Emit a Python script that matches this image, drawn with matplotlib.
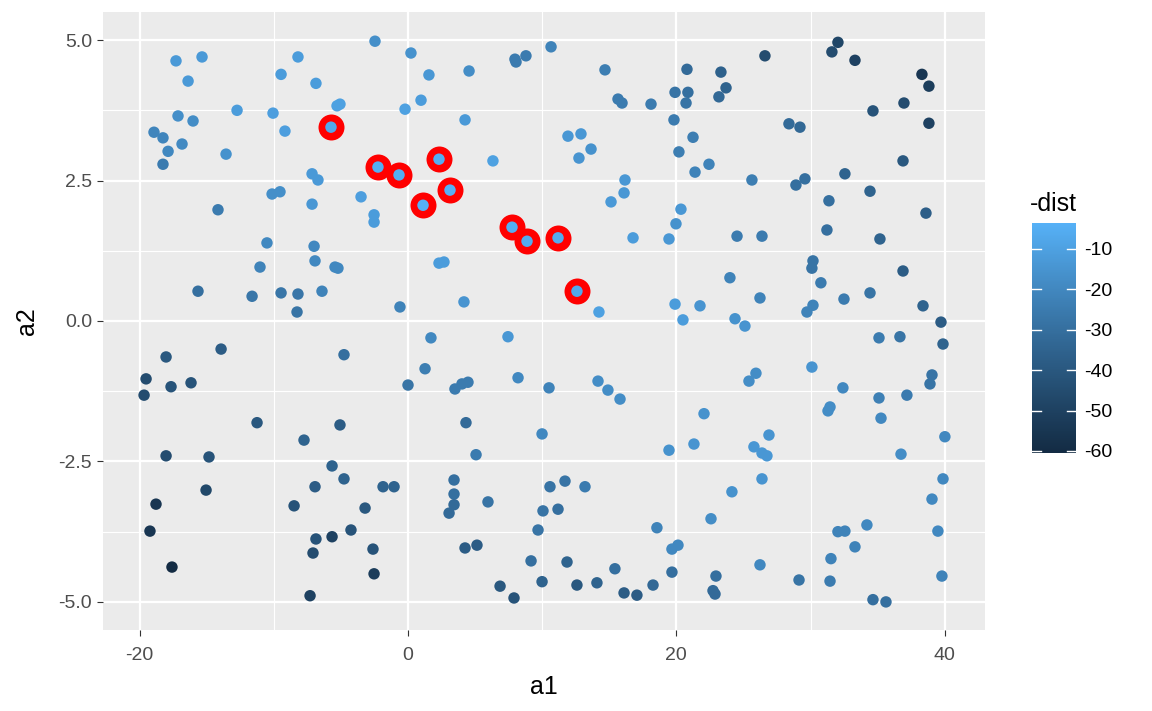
import numpy as np
import matplotlib
matplotlib.use("Agg")
import matplotlib.pyplot as plt
from matplotlib.colors import ListedColormap, Normalize

# all points (a1, a2) and colour value -dist
a1 = [-17.29, -15.35, -16.39, -8.20, -9.46, -6.86, -17.14, -16.02, -12.74, -10.06,
      -9.17, -18.93, -18.26, -16.84, -17.88, -18.26, -13.56, -7.15, -6.71, -10.13,
      -9.54, -7.15, -14.16, -2.46, 0.22, 1.56, 4.55, 7.97, 8.05, 8.79,
      10.66, -5.07, -5.29, 0.97, -0.22, 4.25, 6.33, -3.50, -2.53, -2.53,
      14.68, 20.79, 23.32, 26.60, 15.65, 15.95, 18.11, 19.90, 20.86, 20.72,
      23.70, 23.17, 19.82, 21.24, 11.92, 12.89, 13.64, 12.74, 20.19, 22.43,
      21.39, 25.63, 16.17, 16.10, 15.13, 20.34, 19.97, 32.04, 31.59, 33.31,
      38.30, 38.82, 36.96, 34.65, 38.82, 28.39, 29.21, 36.89, 32.56, 29.58,
      28.91, 34.43, 31.37, 38.60, -10.51, -7.00, -6.93, -11.03, -15.65, -11.62,
      -9.46, -8.20, -6.41, -8.27, -13.93, -18.03, -19.52, -17.66, -16.17, -19.67,
      -11.25, -5.44, -5.22, 2.31, 2.68, -0.60, 4.17, 1.71, 7.45, -4.77,
      1.27, 0.00, 3.50, 4.02, 4.47, 8.20, 10.51, -5.07, 4.32, 9.99,
      16.77, 19.45, 24.52, 26.38, 23.99, 26.23, 14.23, 19.90, 21.76, 20.49,
      24.37, 25.11, 14.16, 14.90, 15.80, 25.93, 25.41, 22.06, 26.90, 25.78,
      26.38, 26.75, 31.22, 35.17, 30.18, 30.10, 36.89, 30.77, 32.49, 34.43,
      30.18, 29.73, 38.38, 39.72, 35.10, 36.66, 39.87, 30.10, 32.41, 35.10,
      37.18, 39.05, 38.90, 31.45, 31.30, 35.25, -7.75, -18.03, -14.83, -15.05,
      -18.78, -19.23, -17.59, -6.93, -8.49, -6.86, -7.08, -7.30, 5.07, -5.66,
      -4.77, -1.86, -1.04, 3.43, 3.43, 3.43, 3.06, 5.96, 10.58, 10.06,
      9.69, -3.20, -5.66, -4.25, -2.61, -2.53, 4.25, 5.14, 9.17, 6.86,
      7.90, 9.99, 19.45, 21.31, 11.70, 13.19, 11.18, 18.55, 24.14, 22.58,
      26.38, 19.67, 20.12, 11.85, 15.42, 19.67, 12.59, 14.08, 16.10, 17.06,
      18.26, 22.95, 22.73, 22.88, 26.23, 40.01, 36.74, 39.87, 39.05, 39.49,
      32.04, 32.56, 34.20, 33.31, 31.52, 31.45, 29.14, 34.65, 35.62, 39.79]

a2 = [4.63, 4.70, 4.27, 4.70, 4.39, 4.23, 3.65, 3.56, 3.75, 3.70,
      3.38, 3.36, 3.26, 3.15, 3.02, 2.79, 2.97, 2.62, 2.51, 2.26,
      2.30, 2.08, 1.98, 4.98, 4.77, 4.38, 4.45, 4.66, 4.61, 4.72,
      4.88, 3.86, 3.83, 3.93, 3.77, 3.58, 2.85, 2.21, 1.89, 1.76,
      4.47, 4.48, 4.43, 4.72, 3.95, 3.88, 3.86, 4.07, 4.07, 3.88,
      4.15, 3.99, 3.58, 3.27, 3.29, 3.33, 3.06, 2.90, 3.01, 2.79,
      2.65, 2.51, 2.51, 2.28, 2.12, 1.99, 1.73, 4.96, 4.79, 4.64,
      4.39, 4.18, 3.88, 3.74, 3.52, 3.51, 3.45, 2.85, 2.62, 2.53,
      2.42, 2.31, 2.14, 1.92, 1.39, 1.33, 1.07, 0.96, 0.53, 0.44,
      0.50, 0.48, 0.53, 0.16, -0.50, -0.64, -1.03, -1.17, -1.10, -1.32,
      -1.81, 0.96, 0.94, 1.03, 1.05, 0.25, 0.34, -0.30, -0.28, -0.60,
      -0.85, -1.14, -1.21, -1.12, -1.09, -1.01, -1.19, -1.85, -1.81, -2.01,
      1.48, 1.46, 1.51, 1.51, 0.77, 0.41, 0.16, 0.30, 0.27, 0.02,
      0.04, -0.09, -1.07, -1.23, -1.39, -0.93, -1.07, -1.65, -2.03, -2.24,
      -2.35, -2.40, 1.62, 1.46, 1.07, 0.94, 0.89, 0.68, 0.39, 0.50,
      0.28, 0.16, 0.27, -0.02, -0.30, -0.28, -0.41, -0.82, -1.19, -1.37,
      -1.32, -0.96, -1.12, -1.53, -1.60, -1.73, -2.12, -2.40, -2.42, -3.01,
      -3.26, -3.74, -4.38, -2.95, -3.29, -3.88, -4.13, -4.89, -2.38, -2.58,
      -2.81, -2.95, -2.95, -2.83, -3.08, -3.27, -3.42, -3.22, -2.95, -3.38,
      -3.72, -3.33, -3.84, -3.72, -4.06, -4.50, -4.04, -3.99, -4.27, -4.72,
      -4.93, -4.64, -2.30, -2.19, -2.85, -2.95, -3.35, -3.68, -3.04, -3.52,
      -2.81, -4.06, -3.99, -4.29, -4.41, -4.47, -4.70, -4.66, -4.84, -4.88,
      -4.70, -4.54, -4.80, -4.86, -4.34, -2.06, -2.37, -2.81, -3.17, -3.74,
      -3.75, -3.74, -3.63, -4.02, -4.23, -4.63, -4.61, -4.96, -5.00, -4.54]

neg_dist = [-13, -13, -13, -12, -12, -12, -17, -18, -12, -11,
            -11, -21, -21, -19, -20, -25, -16, -13, -13, -17,
            -17, -14, -25, -17, -16, -14, -18, -25, -25, -25,
            -22, -10, -10, -12, -10, -13, -10, -11, -12, -12,
            -24, -32, -36, -45, -25, -25, -25, -28, -30, -28,
            -35, -33, -25, -24, -14, -14, -16, -15, -24, -22,
            -22, -24, -14, -14, -13, -14, -16, -48, -45, -50,
            -55, -52, -45, -42, -50, -32, -33, -40, -35, -30,
            -30, -35, -30, -37, -20, -20, -20, -22, -30, -27,
            -27, -27, -22, -28, -38, -40, -45, -42, -42, -45,
            -40, -20, -20, -12, -12, -22, -15, -20, -14, -30,
            -24, -28, -25, -25, -25, -20, -22, -38, -32, -20,
            -12, -14, -25, -25, -22, -22, -10, -12, -15, -12,
            -16, -15, -18, -18, -18, -18, -18, -16, -15, -14,
            -14, -14, -30, -35, -28, -28, -38, -25, -25, -28,
            -22, -22, -35, -38, -25, -28, -35, -15, -20, -23,
            -25, -28, -28, -18, -18, -20, -35, -45, -42, -47,
            -55, -55, -60.5, -38, -42, -42, -45, -50, -25, -35,
            -35, -35, -35, -30, -30, -32, -32, -28, -28, -28,
            -28, -40, -50, -42, -42, -52, -38, -38, -30, -40,
            -42, -35, -16, -15, -28, -25, -30, -22, -16, -18,
            -15, -20, -20, -35, -30, -30, -40, -35, -38, -38,
            -33, -30, -32, -32, -20, -20, -18, -20, -20, -20,
            -22, -22, -20, -22, -22, -25, -28, -30, -30, -22]

# nearest neighbours (red rings)
near_a1 = [-5.74, -2.24, -0.67, 2.31, 3.13, 1.12, 7.75, 8.87, 11.18, 12.59]
near_a2 = [3.45, 2.74, 2.60, 2.88, 2.33, 2.06, 1.67, 1.42, 1.48, 0.53]
near_neg_dist = [-7, -5, -5, -5, -4, -3.6, -5, -6, -6, -7]


# ggplot-like gradient (#132B43 -> #56B1F7) interpolated in Lab
def hex2rgb(h):
    return np.array([int(h[i:i + 2], 16) for i in (1, 3, 5)]) / 255.0

M = np.array([[0.4124, 0.3576, 0.1805], [0.2126, 0.7152, 0.0722], [0.0193, 0.1192, 0.9505]])
WP = np.array([0.95047, 1.0, 1.08883])

def rgb2lab(c):
    c = np.where(c > 0.04045, ((c + 0.055) / 1.055) ** 2.4, c / 12.92)
    xyz = M @ c / WP
    f = np.where(xyz > 0.008856, np.cbrt(xyz), 7.787 * xyz + 16 / 116)
    return np.array([116 * f[1] - 16, 500 * (f[0] - f[1]), 200 * (f[1] - f[2])])

def lab2rgb(lab):
    fy = (lab[0] + 16) / 116
    f = np.array([fy + lab[1] / 500, fy, fy - lab[2] / 200])
    xyz = np.where(f > 0.2069, f ** 3, (f - 16 / 116) / 7.787) * WP
    c = np.linalg.solve(M, xyz)
    c = np.where(c > 0.0031308, 1.055 * np.clip(c, 0, None) ** (1 / 2.4) - 0.055, 12.92 * c)
    return np.clip(c, 0, 1)

lo, hi = rgb2lab(hex2rgb("#132B43")), rgb2lab(hex2rgb("#56B1F7"))
cmap = ListedColormap([lab2rgb(lo + t * (hi - lo)) for t in np.linspace(0, 1, 256)])

all_vals = neg_dist + near_neg_dist
norm = Normalize(vmin=min(all_vals), vmax=max(all_vals))

plt.rcParams["font.family"] = ["Liberation Sans", "DejaVu Sans"]
plt.rcParams["axes.unicode_minus"] = False

fig = plt.figure(figsize=(11.52, 7.11), dpi=100)
ax = fig.add_axes([103 / 1152, 1 - 630 / 711, 882 / 1152, 618 / 711])
ax.set_facecolor("#EBEBEB")

ax.set_xlim(-22.73, 43.0)
ax.set_ylim(-5.50, 5.50)
ax.set_xticks([-20, 0, 20, 40])
ax.set_xticks([-10, 10, 30], minor=True)
ax.set_yticks([-5, -2.5, 0, 2.5, 5])
ax.set_yticks([-3.75, -1.25, 1.25, 3.75], minor=True)
ax.set_yticklabels(["-5.0", "-2.5", "0.0", "2.5", "5.0"])
ax.grid(which="major", color="white", linewidth=1.6)
ax.grid(which="minor", color="white", linewidth=0.8)
ax.set_axisbelow(True)
for s in ax.spines.values():
    s.set_visible(False)
ax.tick_params(which="major", length=4, width=0.8, color="#333333",
               labelsize=14, labelcolor="#4D4D4D")
ax.tick_params(axis="x", which="major", pad=8)
ax.tick_params(axis="y", which="major", pad=4)
ax.tick_params(which="minor", length=0)

ax.scatter(a1, a2, c=neg_dist, cmap=cmap, norm=norm, s=68, linewidths=0, zorder=3)
ax.scatter(near_a1, near_a2, color="red", s=350, linewidths=0, zorder=4)
sc = ax.scatter(near_a1, near_a2, c=near_neg_dist, cmap=cmap, norm=norm, s=68,
                linewidths=0, zorder=5)

ax.set_xlabel("a1", fontsize=18, labelpad=8)
ax.set_ylabel("a2", fontsize=18, labelpad=14)

# legend colourbar
cax = fig.add_axes([1032 / 1152, 1 - 453 / 711, 44 / 1152, 230 / 711])
cb = fig.colorbar(sc, cax=cax)
cb.outline.set_visible(False)
cb.set_ticks([-10, -20, -30, -40, -50, -60])
cb.ax.tick_params(length=0, labelsize=14, pad=6)
for t in [-10, -20, -30, -40, -50, -60]:
    cax.axhline(t, xmin=0, xmax=0.2, color="white", linewidth=1)
    cax.axhline(t, xmin=0.8, xmax=1, color="white", linewidth=1)
fig.text(1030 / 1152, 1 - 204 / 711, "-dist", fontsize=18, va="center", ha="left")

fig.savefig("out.png", dpi=100)
